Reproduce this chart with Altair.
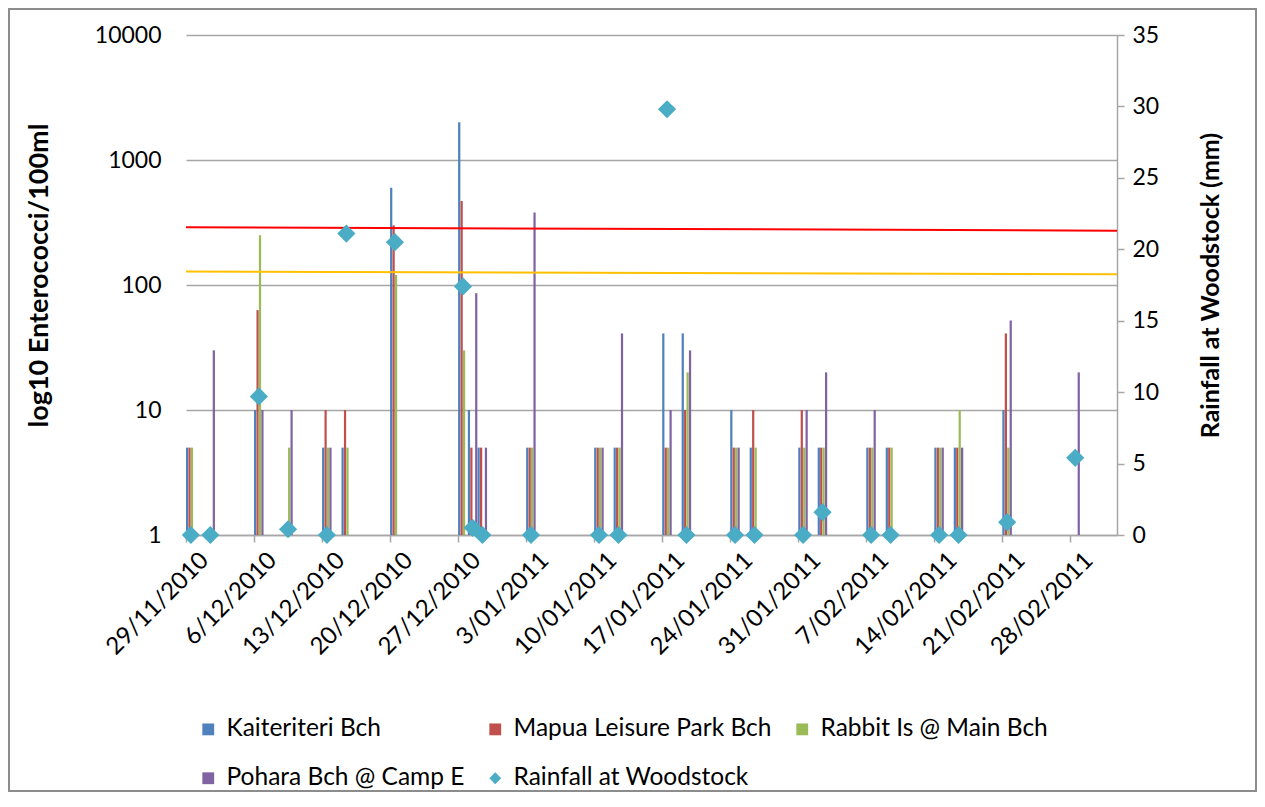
import altair as alt
import pandas as pd

# ---- data ----
dates = ["2010-11-29", "2010-12-01", "2010-12-06", "2010-12-09", "2010-12-13", "2010-12-15",
         "2010-12-20", "2010-12-27", "2010-12-28", "2010-12-29", "2011-01-03", "2011-01-10",
         "2011-01-12", "2011-01-17", "2011-01-19", "2011-01-24", "2011-01-26", "2011-01-31",
         "2011-02-02", "2011-02-07", "2011-02-09", "2011-02-14", "2011-02-16", "2011-02-21",
         "2011-02-28"]
kaiteriteri = [5, None, 10, None, 5, 5, 600, 2000, 10, 5, 5, 5, 5, 41, 41, 10, 5, 5, 5, 5, 5, 5, 5, 10, None]
mapua = [5, None, 63, None, 10, 10, 300, 470, 5, 5, 5, 5, 5, 5, 10, 5, 10, 10, 5, 5, 5, 5, 5, 41, None]
rabbit = [5, None, 250, 5, 5, 5, 120, 30, None, None, 5, 5, 5, 5, 20, 5, 5, 5, 5, 5, 5, 5, 10, 5, None]
pohara = [None, 30, 10, 10, 5, None, None, None, 86, 5, 380, 5, 41, 10, 30, 5, None, 10, 20, 10, None, 5, 5, 52, 20]
rainfall = [0, 0, 9.7, 0.4, 0, 21.1, 20.5, 17.4, 0.5, 0, 0, 0, 0, 29.8, 0, 0, 0, 0, 1.6, 0, 0, 0, 0, 0.9, 5.4]

series_names = ["Kaiteriteri Bch", "Mapua Leisure Park Bch", "Rabbit Is @ Main Bch",
                "Pohara Bch @ Camp E", "Rainfall at Woodstock"]
series_colors = ["#4F81BD", "#C0504D", "#9BBB59", "#8064A2", "#4BACC6"]
series_shapes = ["square", "square", "square", "square", "diamond"]

# guideline values (start / end of the drawn lines)
guide_days = [0, 95.8]
action_line = [290, 272]
alert_line = [128, 122]

start = pd.Timestamp("2010-11-29")
day_index = [(pd.Timestamp(d) - start).days for d in dates]

rows = []
for i, vals in enumerate([kaiteriteri, mapua, rabbit, pohara]):
    for d, v in zip(day_index, vals):
        if v is None:
            continue
        rows.append({"series": series_names[i], "value": v,
                     "x0": d + 0.25 * i, "x1": d + 0.25 * i + 0.23})
bars_df = pd.DataFrame(rows)

rain_df = pd.DataFrame({"series": series_names[4], "rain": rainfall,
                        "xc": [d + 0.5 for d in day_index]})

lines_df = pd.DataFrame({
    "day": guide_days * 2,
    "v": action_line + alert_line,
    "g": ["action", "action", "alert", "alert"],
})

FONT = "Lato"
GRAY = "#A6A6A6"

xscale = alt.Scale(domain=[0, 95.8], nice=False, zero=False)
xaxis = alt.Axis(values=list(range(0, 92, 7)),
                 labelExpr="utcFormat(utc(2010, 10, 29 + datum.value), '%-d/%m/%Y')",
                 labelAngle=315, labelAlign="right", labelBaseline="top", labelOverlap=False,
                 labelPadding=6, labelOffset=10, labelFontSize=24, labelColor="#000",
                 tickSize=7, tickColor=GRAY, tickWidth=1.5, domainColor=GRAY, domainWidth=1.5,
                 grid=False, title=None)

yscale = alt.Scale(type="log", domain=[1, 10000], nice=False)
yaxis = alt.Axis(values=[1, 10, 100, 1000, 10000], format="d", grid=True,
                 gridColor=GRAY, gridWidth=1.5, domain=False, ticks=False,
                 labelPadding=25, labelFontSize=23, labelColor="#000",
                 title="log10 Enterococci/100ml", titleFontSize=27, titleFontWeight="bold",
                 titleAngle=270, titleX=-147, titleY=240, titleAlign="center",
                 titleBaseline="middle", titleColor="#000")

legend = alt.Legend(orient="none", legendX=10, legendY=682, columns=3, direction="horizontal",
                    title=None, labelFontSize=24.5, labelColor="#000", symbolSize=140,
                    symbolStrokeWidth=0, labelOffset=6, columnPadding=18, rowPadding=24,
                    labelLimit=400)

color_enc = alt.Color("series:N", scale=alt.Scale(domain=series_names, range=series_colors),
                      legend=legend)

frame = alt.Chart(lines_df).mark_rect(fillOpacity=0, stroke="#8C8C8C", strokeWidth=1.5).encode(
    x=alt.value(-177), x2=alt.value(1070), y=alt.value(-26), y2=alt.value(756))

bars = alt.Chart(bars_df).mark_bar().encode(
    x=alt.X("x0:Q", scale=xscale, axis=xaxis),
    x2="x1:Q",
    y=alt.Y("value:Q", scale=yscale, axis=yaxis),
    y2=alt.Y2(datum=1),
    color=color_enc,
)

guides = alt.Chart(lines_df).mark_line(strokeWidth=2).encode(
    x=alt.X("day:Q", scale=xscale),
    y=alt.Y("v:Q", scale=yscale),
    detail="g:N",
    stroke=alt.Stroke("g:N", scale=alt.Scale(domain=["action", "alert"], range=["#FF0000", "#FFC000"]),
                      legend=None),
)

points = alt.Chart(rain_df).mark_point(filled=True, size=330, opacity=1).encode(
    x=alt.X("xc:Q", scale=xscale),
    y=alt.Y("rain:Q", scale=alt.Scale(domain=[0, 35], nice=False, zero=True),
            axis=alt.Axis(orient="right", values=list(range(0, 36, 5)), grid=False,
                          domainColor=GRAY, domainWidth=1.5, tickColor=GRAY, tickWidth=1.5,
                          tickSize=7, labelPadding=8, labelFontSize=23, labelColor="#000",
                          title="Rainfall at Woodstock (mm)", titleFontSize=25,
                          titleFontWeight="bold", titleAngle=270, titleX=93, titleY=250,
                          titleAlign="center", titleBaseline="middle", titleColor="#000")),
    color=color_enc,
    shape=alt.Shape("series:N", scale=alt.Scale(domain=series_names, range=series_shapes),
                    legend=legend),
)

left = alt.layer(frame, bars, guides)
chart = alt.layer(left, points).resolve_scale(y="independent").properties(
    width=931, height=500,
    autosize=alt.AutoSizeParams(type="none"),
    padding={"left": 178, "top": 27, "right": 140, "bottom": 258},
).configure(font=FONT).configure_view(stroke=None)

chart.save("out.html", embed_options={"renderer": "svg", "actions": False})
